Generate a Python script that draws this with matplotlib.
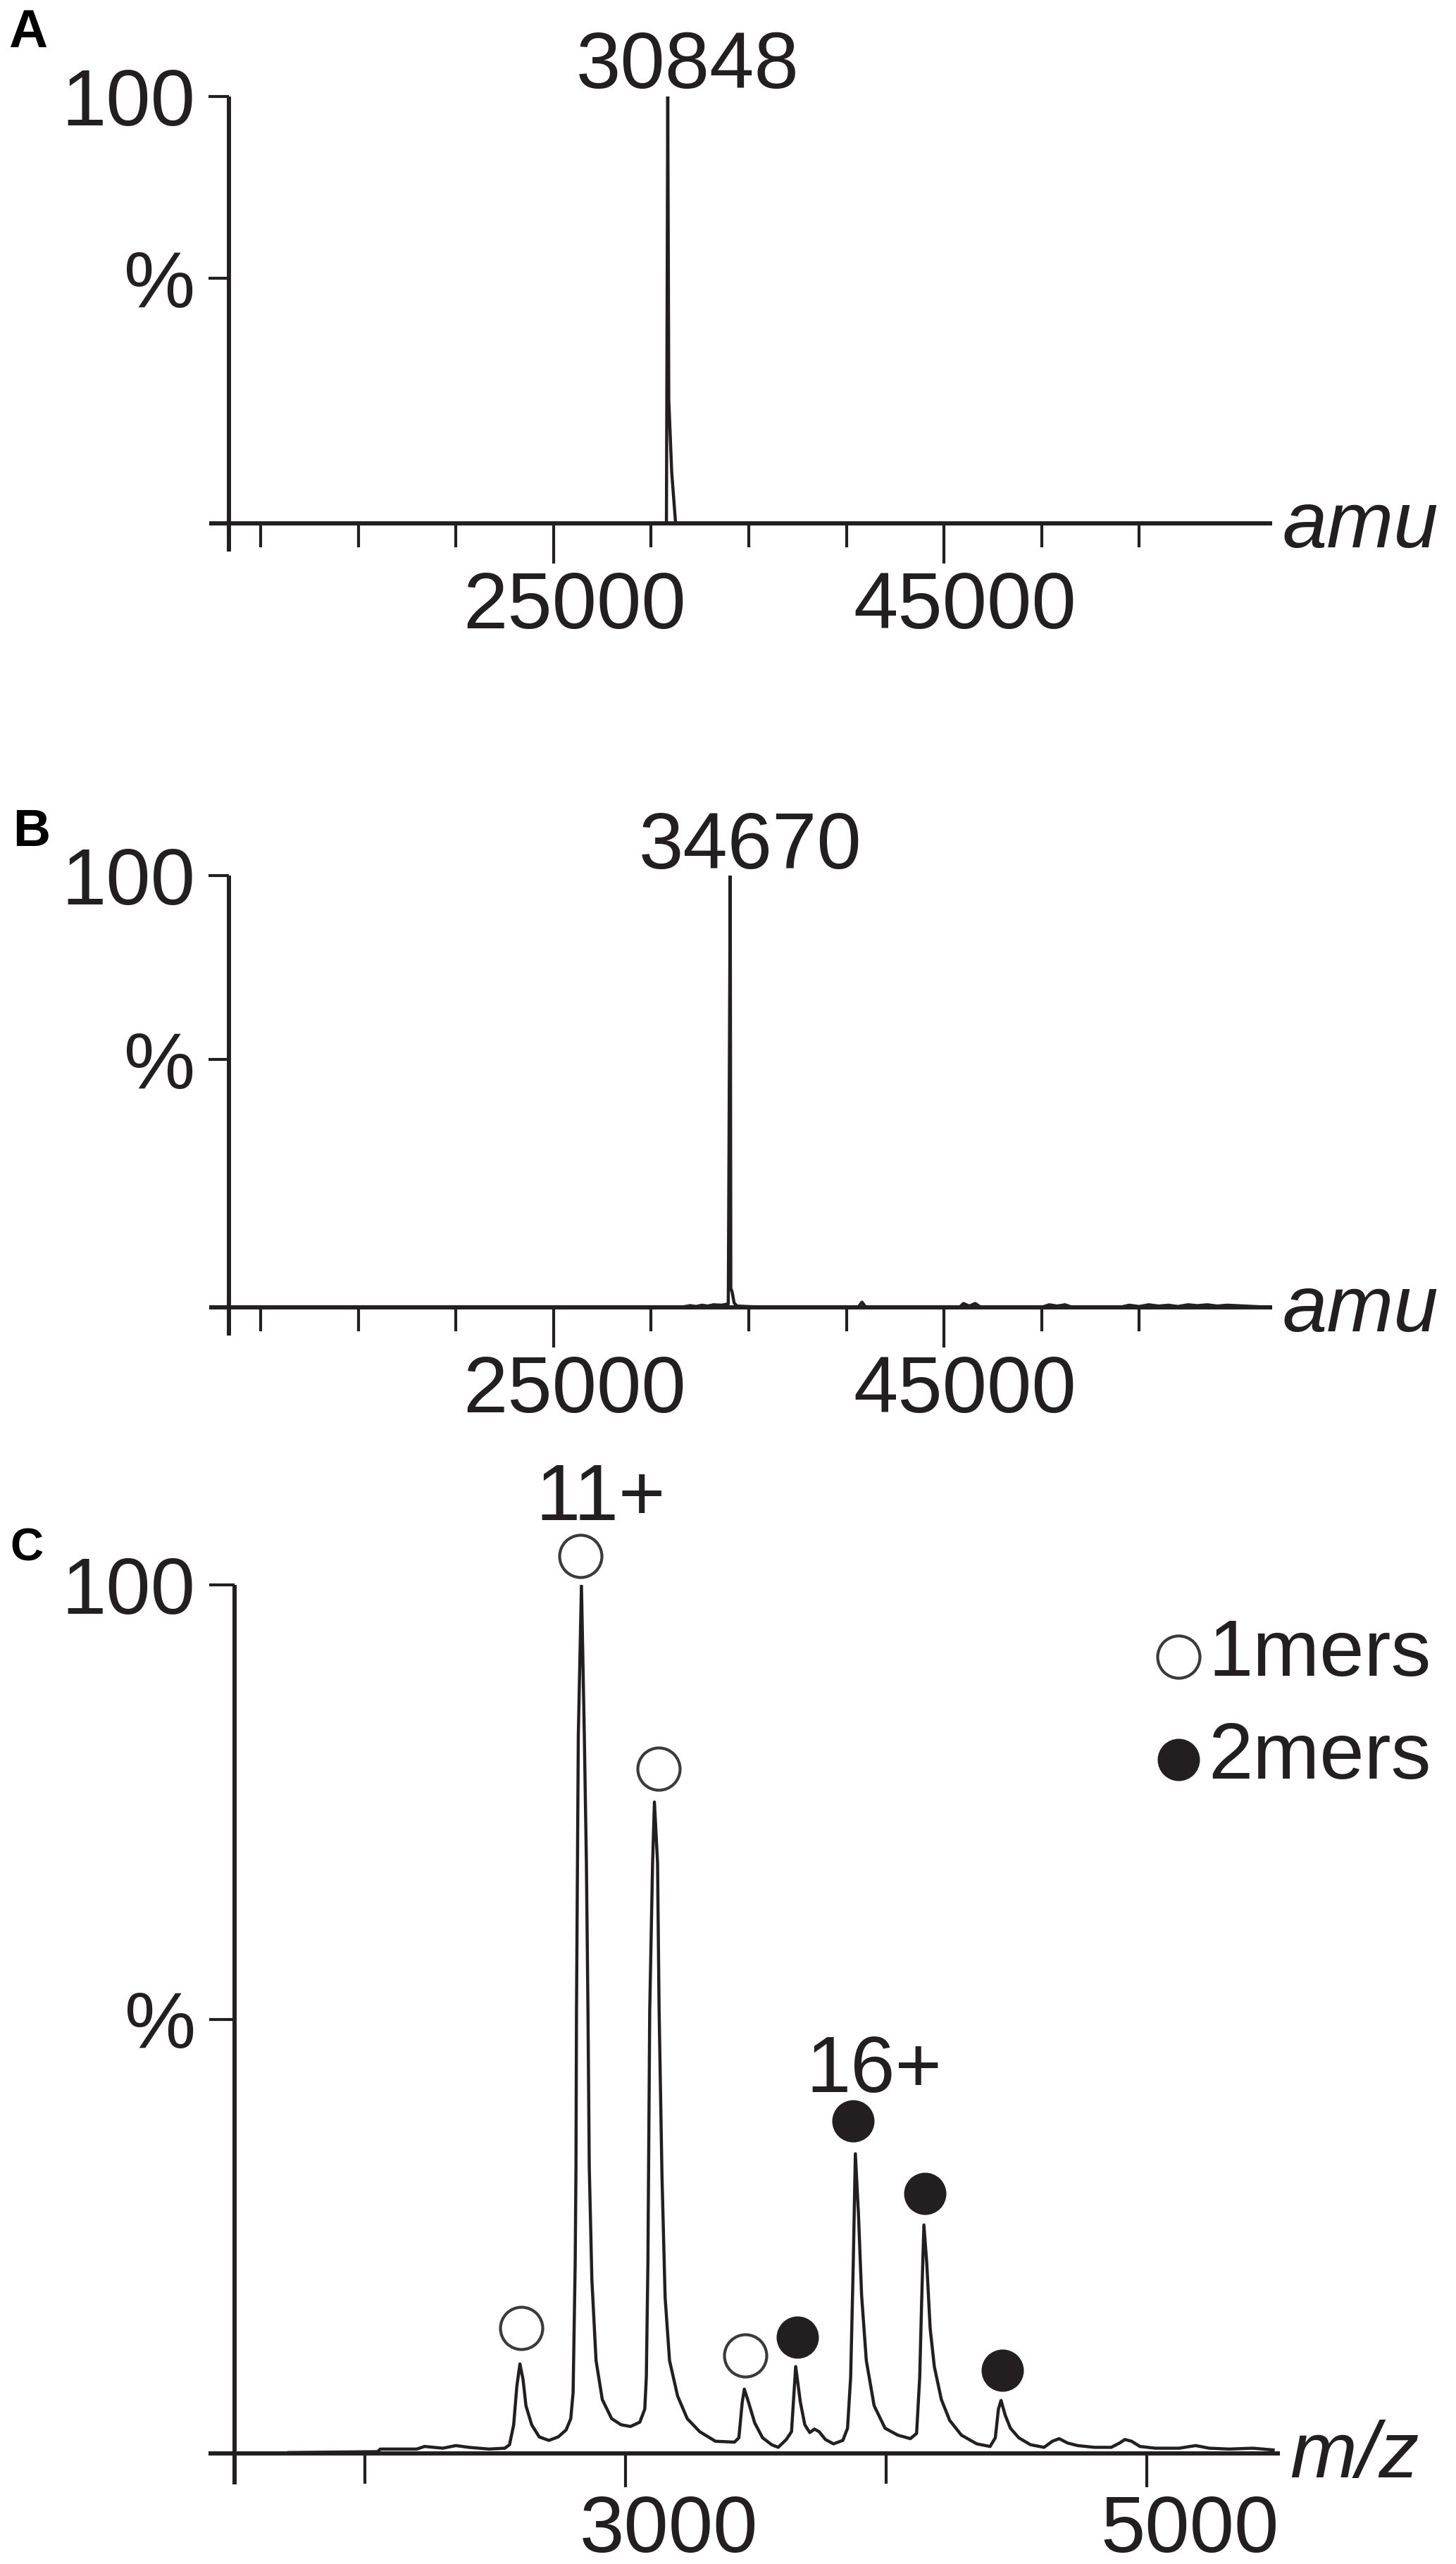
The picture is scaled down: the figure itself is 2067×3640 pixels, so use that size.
import numpy as np
import matplotlib
matplotlib.use('Agg')
import matplotlib.pyplot as plt
from matplotlib.lines import Line2D
from matplotlib.transforms import ScaledTranslation

plt.rcParams['font.family'] = ['Liberation Sans', 'DejaVu Sans']

# ---------------- data ----------------
# A: deconvoluted mass spectrum
amu_a = [8360, 30780, 30848, 30900, 31050, 31250, 61800]
int_a = [0, 0, 100, 29, 12, 0, 0]
peak_a = 30848

# B: deconvoluted mass spectrum
amu_b = [8360, 31500, 32000, 32300, 32600, 32900, 33200, 33600, 33950, 34050, 34080,
         34150, 34250, 34400, 36000, 40600, 40800, 41000, 45800, 46000, 46300, 46600,
         46900, 50000, 50400, 50800, 51200, 51600, 54000, 54500, 55000, 55500, 56000,
         56500, 57000, 57500, 58000, 58500, 59000, 59500, 60000, 61800]
int_b = [0, 0, 0.4, 0.2, 0.5, 0.3, 0.6, 0.5, 0.8, 100, 4.4,
         3.5, 1.0, 0.3, 0, 0, 1.2, 0, 0, 0.9, 0.3, 0.9,
         0, 0, 0.6, 0.3, 0.6, 0, 0, 0.5, 0.2, 0.6, 0.3,
         0.5, 0.2, 0.6, 0.4, 0.6, 0.3, 0.5, 0.4, 0]
peak_b = 34670

# C: native m/z spectrum
mz_c = [1710, 2050, 2060, 2200, 2230, 2300, 2350, 2400, 2477, 2538, 2556, 2572, 2584,
        2596, 2608, 2619, 2641, 2670, 2707, 2743, 2773, 2791, 2800, 2808, 2811, 2813,
        2820, 2832, 2843, 2851, 2857, 2862, 2872, 2888, 2912, 2948, 2984, 3020, 3056,
        3075, 3081, 3087, 3094, 3105, 3112, 3124, 3130, 3141, 3153, 3170, 3201, 3238,
        3286, 3346, 3419, 3436, 3449, 3457, 3473, 3497, 3527, 3562, 3587, 3618, 3638,
        3654, 3672, 3689, 3708, 3726, 3744, 3768, 3799, 3835, 3853, 3865, 3875, 3883,
        3895, 3907, 3925, 3955, 3997, 4046, 4094, 4118, 4130, 4138, 4146, 4157, 4170,
        4186, 4213, 4245, 4290, 4349, 4400, 4420, 4432, 4442, 4458, 4478, 4510, 4555,
        4607, 4639, 4665, 4697, 4736, 4801, 4865, 4897, 4917, 4943, 4975, 5034, 5125,
        5189, 5241, 5318, 5408, 5486]
int_c = [0.1, 0.2, 0.5, 0.5, 0.8, 0.6, 0.9, 0.7, 0.5, 0.6, 1.0, 3.3, 7.7,
         10.3, 8.5, 5.5, 3.3, 1.9, 1.5, 1.9, 2.7, 4.0, 7.0, 21.9, 33, 51,
         82.7, 100, 82.7, 68, 51, 33, 20, 10.7, 6.2, 4.0, 3.3, 3.1, 3.6,
         5.1, 8.8, 21.9, 51, 68, 75, 68, 51, 32, 18, 10.7, 6.6, 4.0,
         2.5, 1.4, 1.3, 1.8, 5.9, 7.4, 5.9, 3.5, 1.8, 1.0, 0.7, 1.6, 2.5,
         10.0, 5.9, 3.3, 2.4, 2.8, 2.5, 1.6, 1.1, 1.5, 2.9, 8.8, 21.9, 34.5,
         27.5, 18.2, 10.7, 5.5, 2.9, 2.1, 1.7, 2.3, 8.8, 18.2, 26.3, 21.9, 14.4,
         10.0, 6.2, 3.8, 2.1, 1.1, 0.8, 1.8, 5.1, 6.1, 4.4, 2.9, 1.8, 1.0,
         0.7, 1.4, 1.7, 1.2, 0.9, 0.7, 0.7, 1.2, 1.6, 1.4, 0.8, 0.6, 0.6,
         0.9, 0.6, 0.5, 0.6, 0.4]

mono_mz = [2602, 2829, 3128, 3461]
mono_y = [14.4, 103.3, 78.8, 11.3]
dimer_mz = [3660, 3875, 4151, 4446]
dimer_y = [13.4, 38.3, 29.9, 9.6]
charge_text = ['11+', '16+']
charge_mz = [2832, 3883]
charge_y = [107.5, 41.6]
key_labels = ['1mers', '2mers']

amu_major = [25000, 45000]
amu_minor = [10000, 15000, 20000, 30000, 35000, 40000, 50000, 55000]
mz_major = [3000, 5000]
mz_minor = [2000, 4000]

# ---------------- style ----------------
W, H = 2067, 3640
INK = '#231f20'
FS = 82          # ~114 px text
PT = 0.72        # points per pixel at dpi 100
LW_AX = 4.3
LW_TK = 3.0
LW_SP = 3.2
OPEN = dict(marker='o', ms=60 * PT, mfc='white', mec='#3a3a3a', mew=3.0, ls='none')
FILLED = dict(marker='o', ms=60 * PT, mfc=INK, mec=INK, mew=0, ls='none')

fig = plt.figure(figsize=(W / 100, H / 100), dpi=100)


def px_axes(x0, x1, ytop, ybase):
    return fig.add_axes([x0 / W, (H - ybase) / H, (x1 - x0) / W, (ybase - ytop) / H])


def setup(ax, xlim, x_axis, below, major, minor, pct_at, xlabel,
          major_len, minor_len, ylen, label_shift):
    ax.set_xlim(xlim)
    ax.set_ylim(0, 100)
    ax.patch.set_visible(False)
    for s in ['top', 'right']:
        ax.spines[s].set_visible(False)
    ax.spines['left'].set_position(('data', x_axis))
    ax.spines['left'].set_bounds(-below, 100)
    for s in ['left', 'bottom']:
        ax.spines[s].set_linewidth(LW_AX)
        ax.spines[s].set_color(INK)
        ax.spines[s].set_capstyle('butt')
    ax.set_xticks(major, [str(v) for v in major])
    ax.set_xticks(minor, minor=True)
    ax.tick_params(axis='x', which='major', length=major_len * PT, width=LW_TK,
                   color=INK, labelsize=FS, labelcolor=INK, pad=10 * PT)
    ax.tick_params(axis='x', which='minor', length=minor_len * PT, width=LW_TK, color=INK)
    ax.set_yticks([pct_at, 100], ['%', '100'])
    ax.tick_params(axis='y', length=ylen * PT, width=LW_TK, color=INK,
                   labelsize=FS, labelcolor=INK, pad=19 * PT)
    shift = ScaledTranslation(label_shift / 100, 0, fig.dpi_scale_trans)
    for lbl in ax.get_xticklabels():
        lbl.set_transform(lbl.get_transform() + shift)
    ax.annotate(xlabel, xy=(1, 0), xycoords='axes fraction',
                xytext=(14 * PT, -34 * PT), textcoords='offset points',
                ha='left', va='baseline', fontsize=FS, style='italic', color=INK)


# ---- A ----
axA = px_axes(297, 1806, 137, 743)
setup(axA, (7350, 61820), 8360, 6.6, amu_major, amu_minor, 57.5, 'amu', 57, 34, 29, 30)
axA.plot(amu_a, int_a, color=INK, lw=LW_SP, solid_joinstyle='miter')
axA.annotate(str(peak_a), xy=(peak_a, 100), xytext=(28 * PT, 12 * PT),
             textcoords='offset points', ha='center', va='baseline',
             fontsize=FS, color=INK, annotation_clip=False)

# ---- B ----
axB = px_axes(297, 1806, 1243, 1856)
setup(axB, (7350, 61820), 8360, 6.6, amu_major, amu_minor, 57.5, 'amu', 57, 34, 29, 30)
axB.plot(amu_b, int_b, color=INK, lw=LW_SP)
axB.annotate(str(peak_b), xy=(34050, 100), xytext=(28 * PT, 10 * PT),
             textcoords='offset points', ha='center', va='baseline',
             fontsize=FS, color=INK, annotation_clip=False)

# ---- C ----
axC = px_axes(296, 1817, 2250, 3483)
setup(axC, (1401, 5512), 1500, 3.6, mz_major, mz_minor, 50, 'm/z', 48, 43, 36, 62)
axC.plot(mz_c, int_c, color=INK, lw=LW_SP)
axC.plot(mono_mz, mono_y, clip_on=False, **OPEN)
axC.plot(dimer_mz, dimer_y, clip_on=False, **FILLED)
for t, x, y in zip(charge_text, charge_mz, charge_y):
    axC.annotate(t, xy=(x, y), xytext=(27 * PT, 0), textcoords='offset points',
                 ha='center', va='baseline', fontsize=FS, color=INK,
                 annotation_clip=False)

# key (legend) in the upper right of panel C
for i, (lab, style) in enumerate(zip(key_labels, [OPEN, FILLED])):
    yc = 2352 + i * 146
    fig.add_artist(Line2D([1673 / W], [1 - yc / H], transform=fig.transFigure, **style))
    fig.text(1715 / W, 1 - (yc + 27) / H, lab, fontsize=FS, color=INK,
             ha='left', va='baseline')

# panel letters
for letter, x, y, fs in [('A', 12, 12, 55), ('B', 18, 1147, 53), ('C', 14, 2168, 47)]:
    fig.text(x / W, 1 - y / H, letter, fontsize=fs, fontweight='bold',
             ha='left', va='top', color='black')

fig.savefig('out.png', dpi=100)
